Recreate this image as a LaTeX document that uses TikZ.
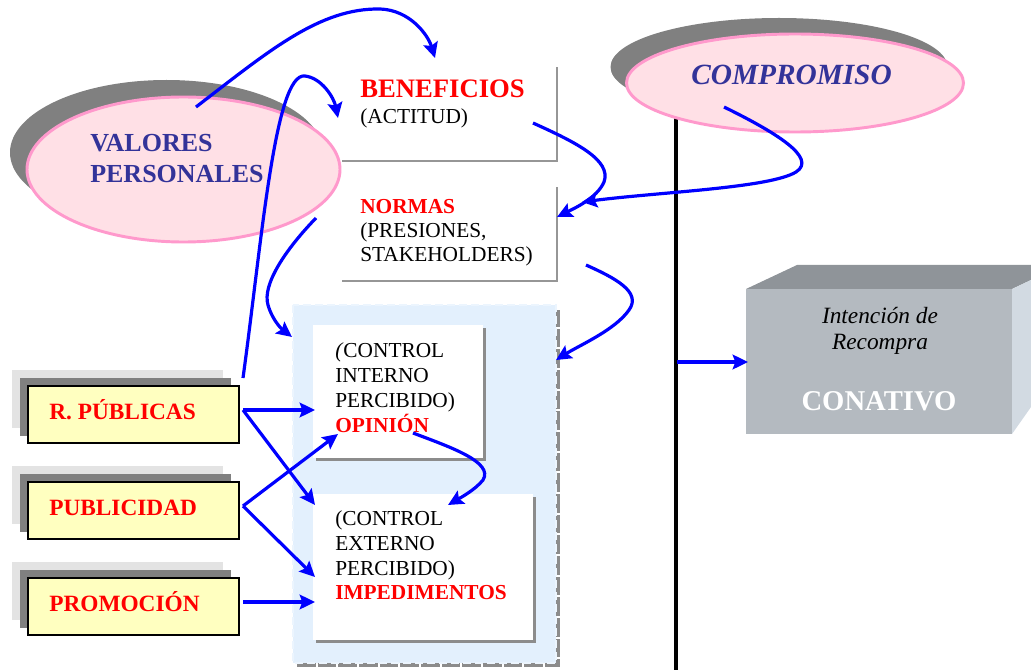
\documentclass[tikz,border=0pt]{standalone}
\usepackage{fontspec}
\setmainfont{Liberation Serif}
\usetikzlibrary{shapes.geometric,arrows.meta}

\definecolor{linkblue}{RGB}{0,0,255}
\definecolor{labelblue}{RGB}{51,51,153}
\definecolor{pinkfill}{RGB}{255,224,230}
\definecolor{pinkline}{RGB}{255,153,204}
\definecolor{ovalshadow}{RGB}{128,128,128}
\definecolor{panelblue}{RGB}{227,240,253}
\definecolor{paneledge}{RGB}{236,245,254}
\definecolor{edgegray}{RGB}{150,150,150}
\definecolor{boxshadow}{RGB}{140,140,140}
\definecolor{boxyellow}{RGB}{255,255,192}
\definecolor{backgray}{RGB}{227,227,227}
\definecolor{midgray}{RGB}{128,128,128}
\definecolor{cubefront}{RGB}{180,186,192}
\definecolor{cubetop}{RGB}{143,148,153}
\definecolor{cubeside}{RGB}{210,218,226}

\tikzset{
  link/.style={draw=linkblue, line width=2.4pt,
    -{Stealth[length=11.5pt,width=11pt,inset=2pt]}},
  oval/.style={ellipse, draw=pinkline, fill=pinkfill, line width=2.2pt,
    inner sep=0pt, outer sep=0pt},
  ovalback/.style={ellipse, fill=ovalshadow, inner sep=0pt, outer sep=0pt},
  lbl/.style={inner sep=0pt, anchor=base west},
  clbl/.style={inner sep=0pt, anchor=base},
  plain/.style={lbl, font=\fontsize{16}{19}\selectfont},
  redhead/.style={lbl, text=red, font=\fontsize{16}{19}\selectfont\bfseries},
  media/.style={lbl, text=red, font=\fontsize{17.5}{21}\selectfont\bfseries},
  ovaltext/.style={lbl, text=labelblue, font=\fontsize{19.5}{23}\selectfont\bfseries},
  greyedge/.style={draw=edgegray, line width=1.5pt},
}

\begin{document}
\begin{tikzpicture}[x=0.75pt,y=-0.75pt]
\useasboundingbox (0,0) rectangle (1031,670);

% vertical divider (top hidden under the COMPROMISO oval)
\coordinate (divtop) at (676,100);
\coordinate (divbot) at (676,670);
\draw[line width=2.6pt, black] (divtop) -- (divbot);

% --- ovals ---
\node[ovalback, minimum width=234.75pt, minimum height=108.75pt] (valshadow) at (166.5,152.5) {};
\node[oval, minimum width=234.75pt, minimum height=108.75pt] (valores) at (183.5,169.5) {};
\node[ovaltext] (val1) at (90,152) {VALORES};
\node[ovaltext] (val2) at (90,183) {PERSONALES};

\node[ovalback, minimum width=252.75pt, minimum height=73.5pt] (compshadow) at (779,67) {};
\node[oval, minimum width=252.75pt, minimum height=73.5pt] (compromiso) at (795,83) {};
\node[clbl, text=labelblue, font=\fontsize{22}{26}\selectfont\bfseries\itshape] (comptext) at (791.5,85) {COMPROMISO};

% --- BENEFICIOS and NORMAS boxes (right and bottom edges only) ---
\draw[greyedge] (342,161) -- (557,161) -- (557,67);
\node[lbl, text=red, font=\fontsize{20}{24}\selectfont\bfseries] (ben1) at (360,98) {BENEFICIOS};
\node[plain] (ben2) at (360,124) {(ACTITUD)};

\draw[greyedge] (342,281) -- (557,281) -- (557,187);
\node[redhead] (nor1) at (360,214) {NORMAS};
\node[plain] (nor2) at (360,238) {(PRESIONES,};
\node[plain] (nor3) at (360,262) {STAKEHOLDERS)};

% --- control panel ---
\draw[line width=2.6pt, boxshadow, dash pattern=on 14pt off 1.5pt] (297,665) -- (558,665) -- (558,310);
\fill[panelblue] (293,305) rectangle (556,663);
\draw[paneledge, line width=0.8pt, dash pattern=on 6pt off 3pt] (293,305) rectangle (556,663);

\fill[boxshadow] (316,328) rectangle (486,461);
\fill[white] (313,325) rectangle (483,458);
\node[plain] (int1) at (335,357) {\textit{(}CONTROL};
\node[plain] (int2) at (335,382) {INTERNO};
\node[plain] (int3) at (335,407) {PERCIBIDO)};
\node[redhead] (opinion) at (335,432) {OPINIÓN};

\fill[boxshadow] (316,497) rectangle (536,643);
\fill[white] (313,494) rectangle (533,640);
\node[plain] (ext1) at (335,525) {(CONTROL};
\node[plain] (ext2) at (335,550) {EXTERNO};
\node[plain] (ext3) at (335,575) {PERCIBIDO)};
\node[redhead] (impedimentos) at (335,599) {IMPEDIMENTOS};

% --- stacked media boxes ---
\foreach \t in {370,466,562}{
  \fill[backgray] (12,\t) rectangle (223,\t+58);
  \fill[midgray] (20,\t+8) rectangle (231,\t+66);
  \draw[black, line width=1.2pt, fill=boxyellow] (28,\t+16) rectangle (239,\t+73);
}
\node[media] (rpub) at (49,419) {R. PÚBLICAS};
\node[media] (publi) at (49,515) {PUBLICIDAD};
\node[media] (promo) at (49,611) {PROMOCIÓN};

% --- CONATIVO block ---
\fill[cubetop] (746,289) -- (797,265) -- (1031,265) -- (1031,280) -- (1012,289) -- cycle;
\fill[cubeside] (1012,289) -- (1031,280) -- (1031,407) -- (1012,434) -- cycle;
\fill[cubefront] (746,289) rectangle (1012,434);
\node[clbl, font=\fontsize{17.5}{21}\selectfont\itshape] (int) at (880,323) {Intención de};
\node[clbl, font=\fontsize{17.5}{21}\selectfont\itshape] (rec) at (880,349) {Recompra};
\node[clbl, text=white, font=\fontsize{21.5}{25}\selectfont\bfseries] (conativo) at (879,410) {CONATIVO};

% --- connector end points ---
\coordinate (valout) at (196,107);
\coordinate (benin) at (435,58);
\coordinate (rpubup) at (243,378);
\coordinate (benleft) at (338,118);
\coordinate (benout) at (533,123);
\coordinate (norin) at (557,217);
\coordinate (compout) at (724,107);
\coordinate (norin2) at (582,202);
\coordinate (norleft) at (316,218);
\coordinate (panelleft) at (292,337);
\coordinate (norright) at (586,265);
\coordinate (panelright) at (556,360);
\coordinate (opout) at (413,433);
\coordinate (impin) at (448,505);
\coordinate (rpubout) at (243,410);
\coordinate (publiout) at (243,506);
\coordinate (promoout) at (243,602);
\coordinate (intin) at (315,410);
\coordinate (intin2) at (338,434);
\coordinate (extin) at (315,505);
\coordinate (extin2) at (315,577);
\coordinate (extin3) at (315,602);
\coordinate (divmid) at (677,362);
\coordinate (cubein) at (748,362);

% --- connectors ---
\draw[link] (valout) .. controls (270,50) and (320,8) .. (380,9)
  .. controls (410,10) and (428,35) .. (benin);
\draw[link] (rpubup) .. controls (262,240) and (275,72) .. (305,76)
  .. controls (322,78) and (334,98) .. (benleft);
\draw[link] (benout) .. controls (575,142) and (612,160) .. (604,182)
  .. controls (597,198) and (575,208) .. (norin);
\draw[link] (compout) .. controls (775,132) and (818,158) .. (796,172)
  .. controls (770,188) and (660,192) .. (norin2);
\draw[link] (norleft) .. controls (285,250) and (262,285) .. (268,305)
  .. controls (273,322) and (283,330) .. (panelleft);
\draw[link] (norright) .. controls (615,278) and (642,292) .. (629,310)
  .. controls (615,330) and (580,345) .. (panelright);
\draw[link] (opout) .. controls (450,447) and (494,462) .. (483,480)
  .. controls (475,490) and (460,498) .. (impin);
\draw[link] (rpubout) -- (intin);
\draw[link] (rpubout) -- (extin);
\draw[link] (publiout) -- (intin2);
\draw[link] (publiout) -- (extin2);
\draw[link] (promoout) -- (extin3);
\draw[link] (divmid) -- (cubein);
\end{tikzpicture}
\end{document}
